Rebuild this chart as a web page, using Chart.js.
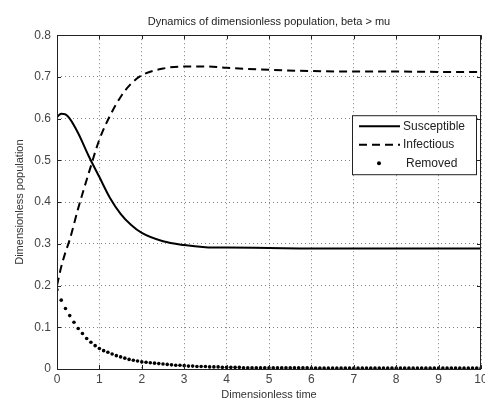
<!DOCTYPE html>
<html>
<head>
<meta charset="utf-8">
<script src="https://cdn.jsdelivr.net/npm/chart.js@4.4.1/dist/chart.umd.min.js"></script>
<style>
  html, body { margin: 0; padding: 0; background: #fff; }
  #wrap { width: 485px; height: 402px; }
</style>
</head>
<body>
<div id="wrap"><canvas id="grafico" width="485" height="402"></canvas></div>
<script>
// time samples for the two smooth curves
var tempi_linee = [0, 0.1, 0.2, 0.3, 0.5, 0.75, 1, 1.25, 1.5, 1.75, 2, 2.5, 3, 3.5, 4, 5, 6, 7, 8, 9, 10];
var suscettibili = [0.604, 0.612, 0.610, 0.600, 0.565, 0.510, 0.460, 0.410, 0.372, 0.345, 0.326, 0.306, 0.297, 0.292, 0.291, 0.290, 0.289, 0.289, 0.289, 0.289, 0.289];
var infetti = [0.200, 0.245, 0.280, 0.310, 0.385, 0.470, 0.550, 0.607, 0.652, 0.684, 0.704, 0.720, 0.725, 0.725, 0.722, 0.717, 0.714, 0.713, 0.713, 0.712, 0.712];

// removed: one dot every 0.1 time units (0 .. 10)
var rimossi = [
  0.190, 0.165, 0.145, 0.128, 0.112, 0.097, 0.085, 0.073, 0.064, 0.056,
  0.049, 0.044, 0.040, 0.036, 0.032, 0.029, 0.026, 0.023, 0.021, 0.019,
  0.017, 0.016, 0.015, 0.014, 0.013, 0.012, 0.011, 0.010, 0.009, 0.009,
  0.008, 0.007, 0.007, 0.006, 0.006, 0.006, 0.005, 0.005, 0.005, 0.004,
  0.004, 0.004, 0.004, 0.004, 0.003, 0.003, 0.003, 0.003, 0.003, 0.003,
  0.003, 0.003, 0.003, 0.003, 0.003, 0.003, 0.003, 0.003, 0.003, 0.003,
  0.002, 0.002, 0.002, 0.002, 0.002, 0.002, 0.002, 0.002, 0.002, 0.002,
  0.002, 0.002, 0.002, 0.002, 0.002, 0.002, 0.002, 0.002, 0.002, 0.002,
  0.002, 0.002, 0.002, 0.002, 0.002, 0.002, 0.002, 0.002, 0.002, 0.002,
  0.002, 0.002, 0.002, 0.002, 0.002, 0.002, 0.002, 0.002, 0.002, 0.002,
  0.002
];
var passo_rimossi = 0.1;

var tick_x = [0, 1, 2, 3, 4, 5, 6, 7, 8, 9, 10];
var tick_y = [0, 0.1, 0.2, 0.3, 0.4, 0.5, 0.6, 0.7, 0.8];

var titolo = 'Dynamics of dimensionless population, beta > mu';
var titolo_x = 'Dimensionless time';
var titolo_y = 'Dimensionless population';

function punti(xs, ys) {
  var out = [];
  for (var i = 0; i < ys.length; i++) {
    out.push({ x: xs[i], y: ys[i] });
  }
  return out;
}

var tempi_rimossi = [];
for (var k = 0; k < rimossi.length; k++) {
  tempi_rimossi.push(Math.round(k * passo_rimossi * 10) / 10);
}

var FONT = '"Liberation Sans", Arial, sans-serif';

// box, inward ticks and legend drawn matlab-style
var stile_matlab = {
  id: 'stile_matlab',
  afterDraw: function(chart) {
    var ctx = chart.ctx;
    var a = chart.chartArea;
    var sx = chart.scales.x, sy = chart.scales.y;
    ctx.save();
    ctx.strokeStyle = '#222';
    ctx.lineWidth = 1;
    ctx.beginPath();
    tick_x.forEach(function(v) {
      var px = Math.round(sx.getPixelForValue(v)) + 0.5;
      ctx.moveTo(px, a.bottom); ctx.lineTo(px, a.bottom - 4);
      ctx.moveTo(px, a.top); ctx.lineTo(px, a.top + 4);
    });
    tick_y.forEach(function(v) {
      var py = Math.round(sy.getPixelForValue(v)) + 0.5;
      ctx.moveTo(a.left, py); ctx.lineTo(a.left + 4, py);
      ctx.moveTo(a.right, py); ctx.lineTo(a.right - 4, py);
    });
    ctx.stroke();
    ctx.strokeRect(Math.round(a.left) + 0.5, Math.round(a.top) + 0.5,
                   Math.round(a.right - a.left) - 1, Math.round(a.bottom - a.top));

    // legend box
    var lx = a.right - 129, ly = a.top + 80, lw = 124, lh = 59;
    ctx.fillStyle = '#fff';
    ctx.fillRect(lx, ly, lw, lh);
    ctx.strokeStyle = '#222';
    ctx.strokeRect(lx + 0.5, ly + 0.5, lw, lh);
    var ds = chart.data.datasets;
    ctx.font = '12px ' + FONT;
    ctx.fillStyle = '#222';
    ctx.textBaseline = 'middle';
    for (var i = 0; i < ds.length; i++) {
      var yy = ly + 11 + i * 18.5;
      ctx.strokeStyle = '#000';
      ctx.lineWidth = 2;
      if (ds[i].showLine === false) {
        ctx.beginPath();
        ctx.arc(lx + 27, yy, 2, 0, Math.PI * 2);
        ctx.fillStyle = '#000';
        ctx.fill();
      } else {
        ctx.setLineDash(ds[i].borderDash || []);
        ctx.beginPath();
        ctx.moveTo(lx + 7, yy); ctx.lineTo(lx + 48, yy);
        ctx.stroke();
        ctx.setLineDash([]);
      }
      ctx.fillStyle = '#222';
      ctx.fillText(ds[i].label, lx + (ds[i].showLine === false ? 54 : 51), yy);
    }
    ctx.restore();
  }
};

var grafico = new Chart(document.getElementById('grafico'), {
  type: 'line',
  data: {
    datasets: [{
      label: 'Susceptible',
      data: punti(tempi_linee, suscettibili),
      borderColor: '#000',
      borderWidth: 2,
      pointRadius: 0,
      fill: false,
      cubicInterpolationMode: 'monotone'
    }, {
      label: 'Infectious',
      data: punti(tempi_linee, infetti),
      borderColor: '#000',
      borderWidth: 2,
      borderDash: [8, 5],
      pointRadius: 0,
      fill: false,
      cubicInterpolationMode: 'monotone'
    }, {
      label: 'Removed',
      data: punti(tempi_rimossi, rimossi),
      showLine: false,
      borderColor: '#000',
      backgroundColor: '#000',
      pointRadius: 1.8,
      pointBorderWidth: 0
    }]
  },
  options: {
    responsive: false,
    animation: false,
    devicePixelRatio: 1,
    layout: { padding: { left: 0, right: 3, top: 0, bottom: 0 } },
    plugins: {
      legend: { display: false },
      tooltip: { enabled: false },
      title: {
        display: true,
        text: titolo,
        fullSize: false,
        color: '#222',
        font: { family: FONT, size: 11, weight: 'normal', lineHeight: 1.2 },
        padding: { top: 15, bottom: 7 }
      }
    },
    scales: {
      x: {
        type: 'linear',
        min: 0,
        max: 10,
        afterBuildTicks: function(s) { s.ticks = tick_x.map(function(v) { return { value: v }; }); },
        afterFit: function(s) { s.height = 33; s.paddingLeft = 0; s.paddingRight = 0; },
        ticks: {
          color: '#444',
          padding: 3,
          maxRotation: 0,
          font: { family: FONT, size: 12 },
          callback: function(v) { return String(v); }
        },
        grid: {
          color: 'rgba(0,0,0,0.5)',
          drawTicks: false
        },
        border: { display: false, dash: [1, 3] },
        title: {
          display: true,
          text: titolo_x,
          color: '#333',
          font: { family: FONT, size: 11, lineHeight: 1.2 },
          padding: { top: 0, bottom: 0 }
        }
      },
      y: {
        type: 'linear',
        min: 0,
        max: 0.8,
        afterBuildTicks: function(s) { s.ticks = tick_y.map(function(v) { return { value: v }; }); },
        afterFit: function(s) { s.width = 57; s.paddingTop = 0; s.paddingBottom = 0; },
        ticks: {
          color: '#444',
          padding: 6,
          font: { family: FONT, size: 12 },
          callback: function(v) { return String(Math.round(v * 10) / 10); }
        },
        grid: {
          color: 'rgba(0,0,0,0.5)',
          drawTicks: false
        },
        border: { display: false, dash: [1, 3] },
        title: {
          display: true,
          text: titolo_y,
          color: '#333',
          font: { family: FONT, size: 11, lineHeight: 1.2 },
          padding: { top: 13, bottom: 0 }
        }
      }
    }
  },
  plugins: [stile_matlab]
});
</script>
</body>
</html>
